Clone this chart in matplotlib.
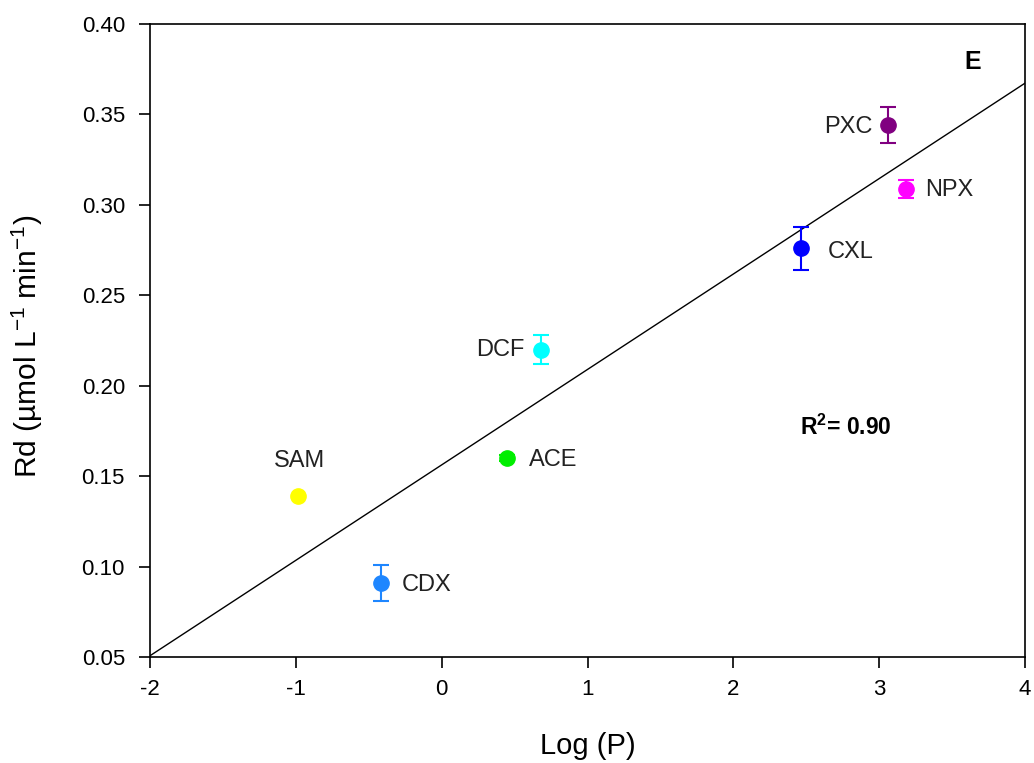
import numpy as np
import matplotlib
matplotlib.use("Agg")
import matplotlib.pyplot as plt

plt.rcParams['font.family'] = ['Liberation Sans', 'DejaVu Sans']

names = ["SAM", "CDX", "ACE", "DCF", "CXL", "PXC", "NPX"]
logp = [-0.985, -0.416, 0.449, 0.682, 2.465, 3.062, 3.185]
rd = [0.139, 0.091, 0.160, 0.220, 0.276, 0.344, 0.309]
rd_err = [0.0, 0.010, 0.0015, 0.008, 0.012, 0.010, 0.005]
colors = ["#FFFF00", "#1E86FF", "#00EE00", "#00FFFF", "#0000FF", "#800080", "#FF00FF"]
# label offsets (points) and alignment
label_pos = {
    "SAM": ((1, 25), "center"),
    "CDX": ((15, -1.5), "left"),
    "ACE": ((16, -1.5), "left"),
    "DCF": ((-12, -0.5), "right"),
    "CXL": ((19, -2.5), "left"),
    "PXC": ((-11, -1.5), "right"),
    "NPX": ((14, -1), "left"),
}
xticks = [-2, -1, 0, 1, 2, 3, 4]
yticks = [0.05, 0.10, 0.15, 0.20, 0.25, 0.30, 0.35, 0.40]
r2_text = "0.90"

fig = plt.figure(figsize=(10.34, 7.63), dpi=100)
ax = fig.add_axes([150/1034, 1-657/763, 875/1034, 633/763])

# regression line
coef = np.polyfit(logp, rd, 1)
xl = np.array([-2, 4])
ax.plot(xl, np.polyval(coef, xl), color="black", lw=1.0, zorder=1)

for n, x, y, e, c in zip(names, logp, rd, rd_err, colors):
    ax.errorbar(x, y, yerr=e if e > 0 else None, fmt="o", color=c, ms=11,
                ecolor=c, elinewidth=1.5, capsize=6, capthick=1.5, zorder=3)
    off, ha = label_pos[n]
    ax.annotate(n, (x, y), xytext=off, textcoords="offset points",
                ha=ha, va="center", fontsize=17, color="#222222")

ax.text(3.64, 0.379, "E", fontsize=18, fontweight="bold", ha="center", va="center")
ax.text(2.46, 0.177, "R$^\\mathregular{2}$= " + r2_text, fontsize=16.5,
        fontweight="bold", ha="left", va="center")

ax.set_xlim(-2, 4)
ax.set_ylim(0.05, 0.40)
ax.set_xticks(xticks)
ax.set_xticklabels([str(t) for t in xticks])
ax.set_yticks(yticks)
ax.set_yticklabels([f"{t:.2f}" for t in yticks])
ax.tick_params(axis="both", direction="out", length=8, width=1.2, labelsize=16)
ax.tick_params(axis="x", pad=8)
ax.tick_params(axis="y", pad=10)
for s in ax.spines.values():
    s.set_linewidth(1.2)

ax.set_xlabel("Log (P)", fontsize=21)
ax.xaxis.set_label_coords(0.5, -0.118)
ax.set_ylabel("Rd (µmol L$^\\mathregular{-1}$ min$^\\mathregular{-1}$)", fontsize=21.5)
ax.yaxis.set_label_coords(-0.12, 0.49)

fig.savefig("out.png", dpi=100)
